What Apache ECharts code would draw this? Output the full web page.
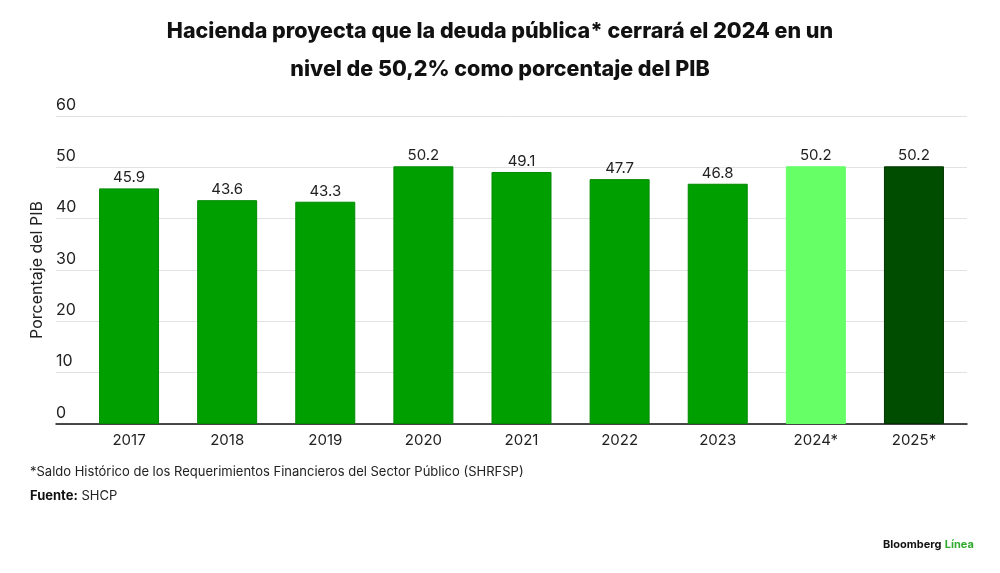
<!DOCTYPE html>
<html><head><meta charset="utf-8">
<script src="https://cdn.jsdelivr.net/npm/echarts@6/dist/echarts.min.js"></script>
<style>html,body{margin:0;padding:0;background:#fff}#c{width:1000px;height:573px}</style>
</head><body><div id="c"></div>
<script>
const categories = ['2017','2018','2019','2020','2021','2022','2023','2024*','2025*'];
const values = [45.9, 43.6, 43.3, 50.2, 49.1, 47.7, 46.8, 50.2, 50.2];
const barColors = ['#009f00','#009f00','#009f00','#009f00','#009f00','#009f00','#009f00','#66ff66','#004d00'];
const yTicks = [0, 10, 20, 30, 40, 50, 60];

const chart = echarts.init(document.getElementById('c'), null, {renderer:'canvas'});
const FONT = 'Inter, "Liberation Sans", sans-serif';
chart.setOption({
  backgroundColor:'#fff',
  animation:false,
  title:[{
    text:'Hacienda proyecta que la deuda pública* cerrará el 2024 en un\nnivel de 50,2% como porcentaje del PIB',
    left:'center', top:8,
    textStyle:{fontFamily:FONT, fontWeight:800, fontSize:21.5, lineHeight:38, color:'#111'}
  }],
  graphic:[
    {type:'text', left:30, top:466, style:{text:'*Saldo Histórico de los Requerimientos Financieros del Sector Público (SHRFSP)', font:'13px '+FONT, fill:'#222'}},
    {type:'text', left:30, top:490, style:{text:'{b|Fuente:} SHCP', font:'13px '+FONT, fill:'#222', rich:{b:{fontWeight:'bold', fontSize:13, fontFamily:FONT, fill:'#111'}}}},
    {type:'text', left:883, top:539, style:{text:'{b|Bloomberg} {g|Línea}', rich:{b:{fontWeight:'bold', fontSize:11, fontFamily:FONT, fill:'#111'}, g:{fontWeight:'bold', fontSize:11, fontFamily:FONT, fill:'#2faa2f'}}}}
  ],
  grid:[
    {left:56, right:33, top:116, bottom:149, containLabel:false},
    {left:80, right:37, top:116, bottom:149, containLabel:false}
  ],
  xAxis:[
    {gridIndex:0, type:'value', min:0, max:1, show:true, axisLine:{show:true, onZero:false, lineStyle:{color:'#111', width:1.5}}, axisTick:{show:false}, axisLabel:{show:false}, splitLine:{show:false}},
    {gridIndex:1, type:'category', data:categories, axisLine:{show:false}, axisTick:{show:false},
     axisLabel:{fontFamily:FONT, fontSize:15, color:'#222', margin:9}}
  ],
  yAxis:[
    {gridIndex:0, type:'value', min:0, max:60, interval:10,
     name:'Porcentaje del PIB', nameLocation:'middle', nameGap:1, nameRotate:90,
     nameTextStyle:{fontFamily:FONT, fontSize:16, color:'#222'},
     axisLine:{show:false}, axisTick:{show:false},
     axisLabel:{inside:true, margin:0, verticalAlign:'bottom', align:'left', padding:[0,0,3,0], fontFamily:FONT, fontSize:16, color:'#222'},
     splitLine:{show:true, lineStyle:{color:'#e2e2e2', width:1}}},
    {gridIndex:1, type:'value', min:0, max:60, interval:10, show:false, splitLine:{show:false}}
  ],
  series:[{
    type:'bar', xAxisIndex:1, yAxisIndex:1,
    data: values.map((v,i)=>({value:v, itemStyle:{color:barColors[i], borderColor: i===7 ? '#66ff66' : (i===8 ? '#003300' : '#008a00'), borderWidth:1}})),
    barWidth:60,
    label:{show:true, position:'top', distance:3, fontFamily:FONT, fontSize:15, color:'#222'}
  }]
});
</script></body></html>
